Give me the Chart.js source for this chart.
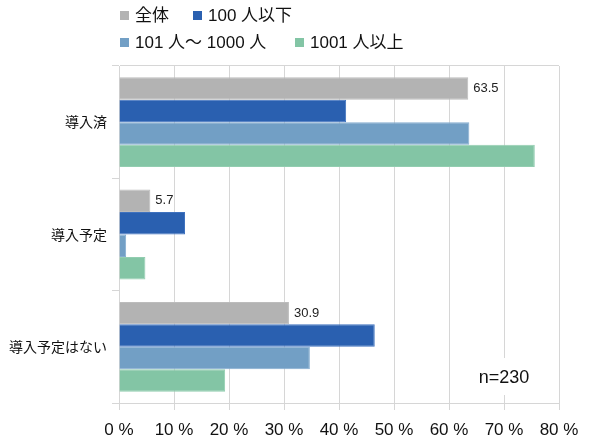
<!DOCTYPE html>
<html>
<head>
<meta charset="utf-8">
<script src="https://cdn.jsdelivr.net/npm/chart.js@4.4.0/dist/chart.umd.min.js"></script>
<style>
  html, body { margin: 0; padding: 0; background: #fff; }
  #wrap { position: relative; width: 590px; height: 448px; }
  #legend { position: absolute; left: 0; top: 0; width: 590px; height: 62px;
    font: 17px "Liberation Sans", "Noto Sans CJK JP", sans-serif; color: #111; }
  .item { position: absolute; height: 20px; line-height: 20px; white-space: nowrap; }
  .box { display: inline-block; width: 9px; height: 9px; margin-right: 6px; vertical-align: 1px; }
</style>
</head>
<body>
<div id="wrap">
  <canvas id="c" width="590" height="448"></canvas>
  <div id="legend"></div>
</div>
<script>
const categories = ["導入済", "導入予定", "導入予定はない"];
const seriesNames = ["全体", "100 人以下", "101 人〜 1000 人", "1001 人以上"];
const allValues = [63.5, 5.7, 30.9];
const smallValues = [41.3, 12.0, 46.5];
const midValues = [63.7, 1.3, 34.7];
const largeValues = [75.6, 4.8, 19.3];
const xTicks = [0, 10, 20, 30, 40, 50, 60, 70, 80];
const sampleNote = "n=230";

const colors = ["#b3b3b3", "#2a60b0", "#729fc5", "#83c5a5"];
const borders = ["#bcbcbc", "#3f72bf", "#84acd0", "#92cdb0"];
const seriesValues = [allValues, smallValues, midValues, largeValues];

// HTML legend (two rows like the reference)
const legendPos = [[120, 6], [193, 6], [120, 33], [295, 33]];
const legendEl = document.getElementById('legend');
seriesNames.forEach((n, i) => {
  const d = document.createElement('div');
  d.className = 'item';
  d.style.left = legendPos[i][0] + 'px';
  d.style.top = legendPos[i][1] + 'px';
  d.innerHTML = '<span class="box" style="background:' + colors[i] + '"></span>' + n;
  legendEl.appendChild(d);
});

const gridColor = '#d6d6d6';

const labelPlugin = {
  id: 'labels',
  afterDatasetsDraw(chart) {
    const ctx = chart.ctx;
    const meta = chart.getDatasetMeta(0);
    ctx.save();
    ctx.font = '13px "Liberation Sans", sans-serif';
    ctx.fillStyle = '#222';
    ctx.textAlign = 'left';
    ctx.textBaseline = 'middle';
    meta.data.forEach((el, i) => {
      ctx.fillText(allValues[i].toFixed(1), el.x + 5, el.y);
    });
    // sample size note with white background
    const xs = chart.scales.x, ys = chart.scales.y;
    const cx = xs.getPixelForValue(70);
    const cy = ys.bottom - 25;
    ctx.font = '18px "Liberation Sans", sans-serif';
    const w = ctx.measureText(sampleNote).width;
    ctx.fillStyle = '#fff';
    ctx.fillRect(cx - w / 2 - 3, cy - 20, w + 6, 37);
    ctx.fillStyle = '#111';
    ctx.textAlign = 'center';
    ctx.fillText(sampleNote, cx, cy);
    ctx.restore();
  }
};

new Chart(document.getElementById('c'), {
  type: 'bar',
  data: {
    labels: categories,
    datasets: seriesNames.map((n, i) => ({
      label: n,
      data: seriesValues[i],
      backgroundColor: colors[i],
      borderColor: borders[i],
      borderWidth: 1,
      categoryPercentage: 0.8,
      barPercentage: 1.0
    }))
  },
  options: {
    indexAxis: 'y',
    responsive: false,
    animation: false,
    devicePixelRatio: 1,
    layout: { padding: { top: 66, right: 31, left: 0, bottom: 0 } },
    plugins: { legend: { display: false }, tooltip: { enabled: false } },
    scales: {
      x: {
        min: 0, max: 80,
        afterBuildTicks(scale) { scale.ticks = xTicks.map(v => ({ value: v })); },
        afterFit(scale) { scale.height = 45; },
        ticks: {
          callback: v => v + ' %',
          font: { family: '"Liberation Sans", sans-serif', size: 17 },
          color: '#111',
          padding: 10,
          maxRotation: 0
        },
        grid: { color: gridColor, tickLength: 7, tickColor: gridColor },
        border: { color: gridColor }
      },
      y: {
        afterFit(scale) { scale.width = 119; },
        ticks: {
          font: { family: '"Noto Sans CJK JP", sans-serif', size: 14 },
          color: '#111',
          padding: 5
        },
        grid: {
          offset: true,
          tickLength: 7,
          tickColor: gridColor,
          color: ctx => (ctx.index === 0 || ctx.index === categories.length) ? gridColor : 'rgba(0,0,0,0)'
        },
        border: { color: gridColor }
      }
    }
  },
  plugins: [labelPlugin]
});
</script>
</body>
</html>
